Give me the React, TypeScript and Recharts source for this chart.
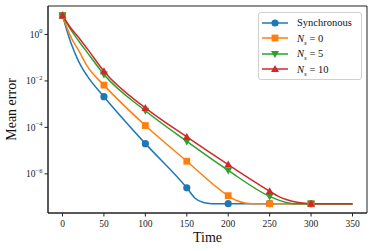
import { LineChart, Line, XAxis, YAxis, ReferenceArea } from "recharts";

// (markers every 50, extra points where the curves bend)
const timeSync = [0, 10, 20, 30, 50, 100, 150, 160, 170, 180, 200, 250, 300, 350];
const errSync = [6.6, 0.45, 0.063, 0.016, 2.1e-3, 2.0e-5, 2.5e-7, 8.9e-8, 5.8e-8, 5.2e-8, 5.2e-8, 5.2e-8, 5.2e-8, 5.2e-8];

const timeNs0 = [0, 10, 20, 30, 50, 100, 150, 200, 210, 220, 230, 250, 300, 350];
const errNs0 = [6.6, 0.79, 0.19, 0.042, 6.6e-3, 1.2e-4, 3.5e-6, 1.15e-7, 7.1e-8, 5.6e-8, 5.2e-8, 5.2e-8, 5.2e-8, 5.2e-8];

const timeNs5 = [0, 10, 20, 30, 50, 100, 150, 200, 250, 260, 270, 280, 300, 350];
const errNs5 = [6.6, 1.6, 0.5, 0.166, 0.019, 5.2e-4, 2.5e-5, 1.4e-6, 1.07e-7, 7.6e-8, 5.9e-8, 5.2e-8, 5.2e-8, 5.2e-8];

const timeNs10 = [0, 10, 20, 30, 50, 100, 150, 200, 250, 260, 270, 280, 290, 300, 350];
const errNs10 = [6.6, 1.9, 0.71, 0.24, 0.026, 6.9e-4, 3.9e-5, 2.5e-6, 1.8e-7, 1.1e-7, 7.9e-8, 6.3e-8, 5.5e-8, 5.2e-8, 5.2e-8];

const xTicks = [0, 50, 100, 150, 200, 250, 300, 350];
const yTicks = [1e-6, 1e-4, 1e-2, 1];

const X_MIN = -17.5;
const X_MAX = 367.5;
const Y_MIN = Math.pow(10, -7.685);
const Y_MAX = Math.pow(10, 1.225);

const FONT = "'Liberation Serif', 'DejaVu Serif', serif";

const toRows = (ts: number[], es: number[]) => ts.map((t, i) => ({ t, err: es[i] }));

const series = [
  { key: "sync", label: "Synchronous", ns: null, color: "#1f77b4", marker: "circle", data: toRows(timeSync, errSync) },
  { key: "ns0", label: "N_s = 0", ns: "0", color: "#ff7f0e", marker: "square", data: toRows(timeNs0, errNs0) },
  { key: "ns5", label: "N_s = 5", ns: "5", color: "#2ca02c", marker: "tridown", data: toRows(timeNs5, errNs5) },
  { key: "ns10", label: "N_s = 10", ns: "10", color: "#d62728", marker: "triup", data: toRows(timeNs10, errNs10) },
];

const Marker = ({ kind, cx, cy, color }: any) => {
  if (kind === "circle") return <circle cx={cx} cy={cy} r={3.6} fill={color} />;
  if (kind === "square") return <rect x={cx - 3.4} y={cy - 3.4} width={6.8} height={6.8} fill={color} />;
  if (kind === "tridown")
    return <polygon points={`${cx - 4},${cy - 3} ${cx + 4},${cy - 3} ${cx},${cy + 4}`} fill={color} />;
  return <polygon points={`${cx - 4},${cy + 3} ${cx + 4},${cy + 3} ${cx},${cy - 4}`} fill={color} />;
};

const makeDot = (kind: string, color: string) => (props: any) => {
  const { cx, cy, payload, index } = props;
  if (payload.t % 50 !== 0 || payload.t > 300) return <g key={index} />;
  return (
    <g key={index}>
      <Marker kind={kind} cx={cx} cy={cy} color={color} />
    </g>
  );
};

const XTick = ({ x, y, payload }: any) => (
  <text x={x} y={y} dy={8} textAnchor="middle" fontSize={9.5} fill="#222" fontFamily={FONT}>
    {payload.value}
  </text>
);

const YTick = ({ x, y, payload }: any) => {
  const e = Math.round(Math.log10(payload.value));
  return (
    <text x={x} y={y} dy={3.5} textAnchor="end" fontSize={9.5} fill="#222" fontFamily={FONT}>
      10
      <tspan dy={-4.5} fontSize={6.5}>{e === 0 ? "0" : "\u2212" + -e}</tspan>
    </text>
  );
};

const LegendBox = () => (
  <div
    style={{
      position: "absolute",
      left: 258,
      top: 12,
      width: 104,
      boxSizing: "border-box",
      border: "1px solid #d0d0d0",
      borderRadius: 3,
      background: "#fff",
      padding: "2px 4px 2px 3px",
      fontFamily: FONT,
      fontSize: 10.5,
      color: "#111",
    }}
  >
    {series.map((s) => (
      <div key={s.key} style={{ display: "flex", alignItems: "center", height: 15.5 }}>
        <svg width={26} height={10} style={{ marginRight: 9 }}>
          <line x1={0} y1={5} x2={26} y2={5} stroke={s.color} strokeWidth={1.5} />
          <Marker kind={s.marker} cx={13} cy={5} color={s.color} />
        </svg>
        {s.ns === null ? (
          <span>{s.label}</span>
        ) : (
          <span>
            <i>N</i>
            <sub style={{ fontSize: 7, fontStyle: "italic", lineHeight: 0 }}>s</sub> = {s.ns}
          </span>
        )}
      </div>
    ))}
  </div>
);

export default function App() {
  return (
    <div style={{ position: "absolute", left: 0, top: 0, width: 374, height: 251, background: "#fff" }}>
      <LineChart width={374} height={251} margin={{ top: 6, right: 7, bottom: 0, left: 0 }}>
        <XAxis
          dataKey="t"
          type="number"
          domain={[X_MIN, X_MAX]}
          allowDataOverflow
          ticks={xTicks}
          height={38}
          tickSize={3.5}
          tickLine={{ stroke: "#222" }}
          axisLine={{ stroke: "#222" }}
          tick={<XTick />}
          label={{ value: "Time", position: "insideBottom", offset: 9, fontSize: 14, fill: "#111", fontFamily: FONT }}
        />
        <YAxis
          type="number"
          scale="log"
          domain={[Y_MIN, Y_MAX]}
          allowDataOverflow
          ticks={yTicks}
          width={48}
          tickSize={3.5}
          tickLine={{ stroke: "#222" }}
          axisLine={{ stroke: "#222" }}
          tick={<YTick />}
          label={{
            value: "Mean error",
            angle: -90,
            position: "insideLeft",
            offset: 11,
            style: { textAnchor: "middle" },
            fontSize: 14,
            fill: "#111",
            fontFamily: FONT,
          }}
        />
        <ReferenceArea x1={X_MIN} x2={X_MAX} y1={Y_MIN} y2={Y_MAX} fill="none" stroke="#222" strokeWidth={1} />
        {series.map((s) => (
          <Line
            key={s.key}
            data={s.data}
            dataKey="err"
            type="monotone"
            stroke={s.color}
            strokeWidth={1.5}
            dot={makeDot(s.marker, s.color)}
            activeDot={false}
            isAnimationActive={false}
          />
        ))}
      </LineChart>
      <LegendBox />
    </div>
  );
}
